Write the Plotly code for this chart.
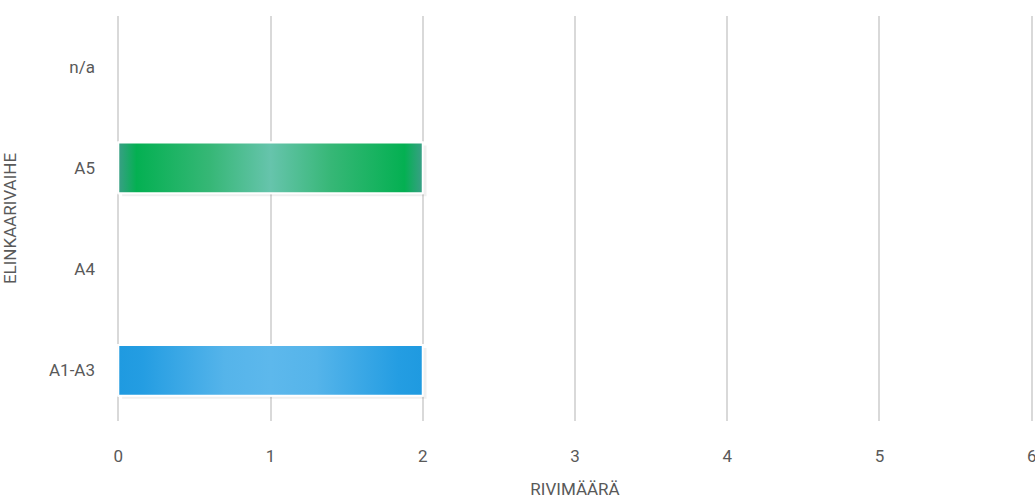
import plotly.graph_objects as go

# Elinkaarivaiheet ja rivimäärät
categories = ["A1-A3", "A4", "A5", "n/a"]
row_counts = [2, 0, 2, 0]
x_ticks = [0, 1, 2, 3, 4, 5, 6]

# Väriliukumäärittelyt (reuna -> keskikohta -> reuna)
gradients = {
    "A1-A3": [[0.0, "#1f9ae0"], [0.08, "#249de2"], [0.35, "#55b4ea"],
              [0.5, "#5db8ec"], [0.65, "#55b4ea"], [0.92, "#249de2"], [1.0, "#1f9ae0"]],
    "A5": [[0.0, "#3a9f86"], [0.06, "#04b052"], [0.3, "#36b776"],
           [0.5, "#66c4ac"], [0.7, "#36b776"], [0.94, "#04b052"], [1.0, "#3a9f86"]],
}
base_colors = {"A1-A3": "#3aa9e6", "A5": "#2db86e"}

bar_half = 0.25
ypos = list(range(len(categories)))

fig = go.Figure()

# Varsinaiset pylväät (nollapylväille ei reunaviivaa)
fig.add_trace(go.Bar(
    x=row_counts, y=ypos, orientation="h", width=bar_half * 2,
    marker=dict(color=[base_colors.get(c, "rgba(0,0,0,0)") for c in categories],
                line=dict(color="#ffffff", width=[2 if v > 0 else 0 for v in row_counts])),
    showlegend=False, hoverinfo="x+y",
))

# Varjo ja liukuväritäyttö pylväiden päälle
for cat, val, y in zip(categories, row_counts, ypos):
    if val <= 0:
        continue
    dx, dy = 0.025, 0.03
    fig.add_trace(go.Scatter(
        x=[0 + dx, val + dx, val + dx, 0 + dx, 0 + dx],
        y=[y - bar_half - dy, y - bar_half - dy, y + bar_half - dy, y + bar_half - dy, y - bar_half - dy],
        fill="toself", fillcolor="rgba(0,0,0,0.06)", mode="lines",
        line=dict(width=0), showlegend=False, hoverinfo="skip",
    ))
    fig.add_trace(go.Scatter(
        x=[0, val, val, 0, 0],
        y=[y - bar_half, y - bar_half, y + bar_half, y + bar_half, y - bar_half],
        fill="toself", mode="lines",
        fillgradient=dict(type="horizontal", colorscale=gradients[cat]),
        line=dict(color="#ffffff", width=2), showlegend=False, hoverinfo="skip",
    ))

font_family = "Roboto, 'IBM Plex Sans', sans-serif"
text_color = "#595959"

fig.update_layout(
    width=1035, height=499,
    margin=dict(l=116, r=1, t=16, b=78),
    paper_bgcolor="#ffffff", plot_bgcolor="#ffffff",
    font=dict(family=font_family, size=17, color=text_color),
    xaxis=dict(
        range=[-0.015, 6.015], tickvals=x_ticks, ticktext=[str(t) for t in x_ticks],
        showgrid=True, gridcolor="#d9d9d9", gridwidth=1.5,
        zeroline=False, showline=False, ticks="", ticklabelstandoff=23,
        ticklabeloverflow="allow",
        title=dict(text="RIVIMÄÄRÄ", font=dict(size=17, color=text_color), standoff=20),
        automargin=False, fixedrange=True,
    ),
    yaxis=dict(
        range=[-0.5, 3.5], tickvals=ypos, ticktext=categories,
        showgrid=False, zeroline=False, showline=False, ticks="",
        ticklabelstandoff=20,
        title=dict(text="ELINKAARIVAIHE", font=dict(size=17, color=text_color), standoff=30),
        automargin=False, fixedrange=True,
    ),
)

fig.write_html("out.html")
